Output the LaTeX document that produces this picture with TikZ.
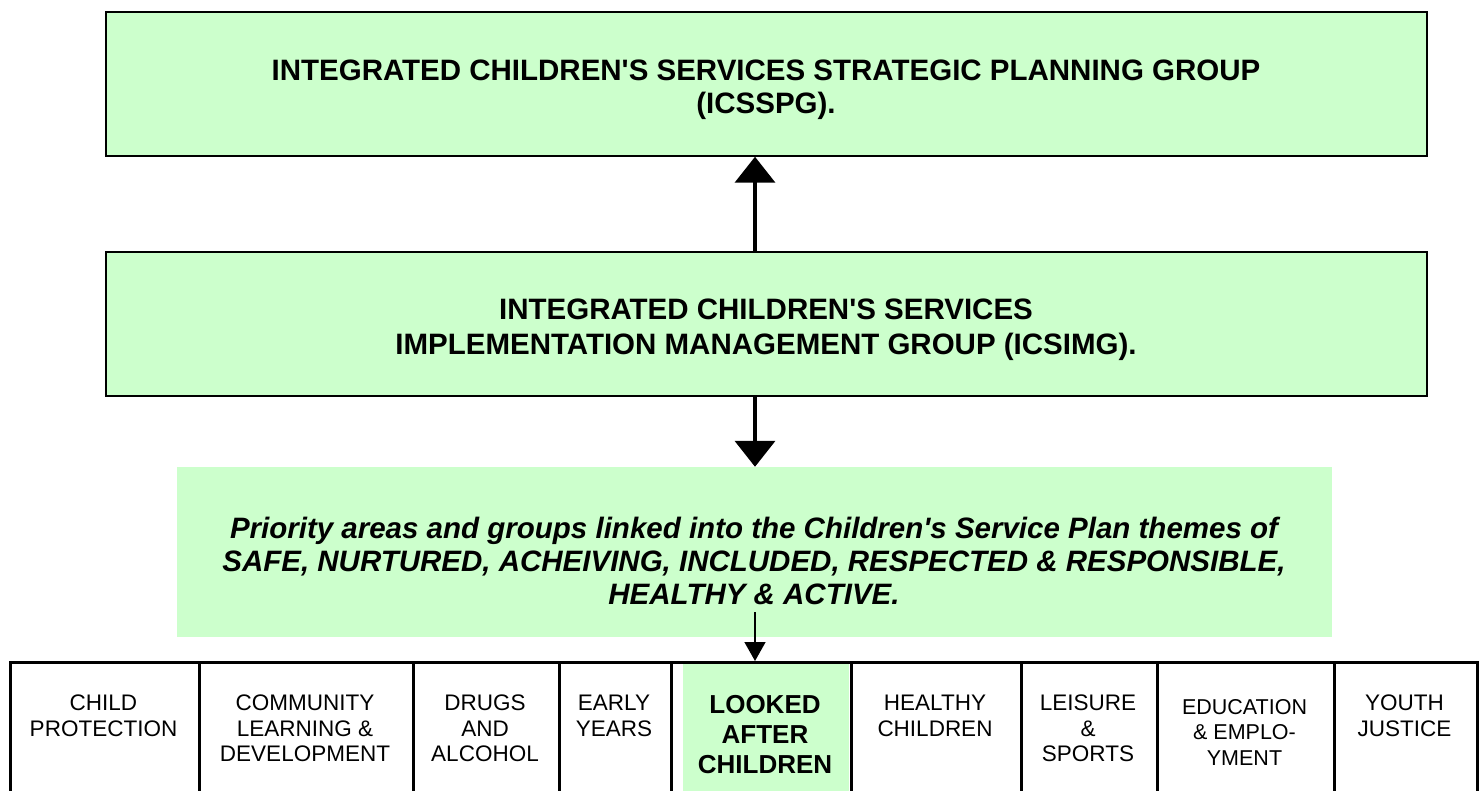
\documentclass[tikz,border=0pt]{standalone}
\usepackage{fontspec}
\setmainfont{Liberation Sans}
\usetikzlibrary{arrows.meta}
\definecolor{lightgreen}{HTML}{CCFFCC}
\begin{document}
\begin{tikzpicture}[x=1pt,y=-1pt,
  box/.style={draw=black, line width=1.5pt, fill=lightgreen, rectangle, inner sep=0, minimum width=1321pt, minimum height=144pt},
  plainbox/.style={fill=lightgreen, draw=none, rectangle, inner sep=0},
  boxtext/.style={inner sep=0, align=center, font=\fontsize{29.5}{33}\selectfont\bfseries},
  cell/.style={draw=black, line width=3pt, rectangle, inner sep=0, anchor=north west, minimum height=200pt},
  celltext/.style={inner sep=0, anchor=north, align=center, font=\fontsize{22.5}{25.5}\selectfont},
  bigarrow/.style={line width=4pt, -{Triangle[width=40pt,length=26pt]}},
  smallarrow/.style={line width=1.5pt, -{Triangle[width=21pt,length=19pt]}}
]
\useasboundingbox (0,0) rectangle (1480,791);

% top boxes
\node[box] (b1) at (766.5,84) {};
\node[boxtext] (t1) at (766,90) {INTEGRATED CHILDREN\textquotesingle S SERVICES STRATEGIC PLANNING GROUP\\(ICSSPG).};
\node[box] (b2) at (766.5,324) {};
\node[boxtext, font=\fontsize{29.5}{35}\selectfont\bfseries] (t2) at (766,330) {INTEGRATED CHILDREN\textquotesingle S SERVICES\\IMPLEMENTATION MANAGEMENT GROUP (ICSIMG).};
\node[plainbox, minimum width=1155pt, minimum height=170pt] (b3) at (754.5,552) {};
\node[boxtext, font=\fontsize{29.5}{33}\selectfont\bfseries\itshape] (t3) at (754,561) {Priority areas and groups linked into the Children\textquotesingle s Service Plan themes of\\SAFE, NURTURED, ACHEIVING, INCLUDED, RESPECTED \& RESPONSIBLE,\\HEALTHY \& ACTIVE.};

% table
\node[plainbox, anchor=north west, minimum width=166pt, minimum height=200pt] (lacfill) at (683,661) {};
\node[cell, minimum width=189pt] (c1) at (9,661) {};
\node[cell, minimum width=214pt] (c2) at (198,661) {};
\node[cell, minimum width=146pt] (c3) at (412,661) {};
\node[cell, minimum width=112pt] (c4) at (558,661) {};
\node[cell, minimum width=180pt] (c5) at (670,661) {};
\node[cell, minimum width=170pt] (c6) at (850,661) {};
\node[cell, minimum width=136pt] (c7) at (1020,661) {};
\node[cell, minimum width=177pt] (c8) at (1156,661) {};
\node[cell, minimum width=143pt] (c9) at (1333,661) {};

\node[celltext] (x1) at (103.5,695) {CHILD\\PROTECTION};
\node[celltext] (x2) at (305,695) {COMMUNITY\\LEARNING \&\\DEVELOPMENT};
\node[celltext] (x3) at (485,695) {DRUGS\\AND\\ALCOHOL};
\node[celltext] (x4) at (614,695) {EARLY\\YEARS};
\node[celltext, font=\fontsize{26}{30}\selectfont\bfseries] (x5) at (765,695) {LOOKED\\AFTER\\CHILDREN};
\node[celltext] (x6) at (935,695) {HEALTHY\\CHILDREN};
\node[celltext] (x7) at (1088,695) {LEISURE\\\&\\SPORTS};
\node[celltext, font=\fontsize{21.5}{25.5}\selectfont] (x8) at (1244.5,699) {EDUCATION\\\& EMPLO-\\YMENT};
\node[celltext] (x9) at (1404.5,695) {YOUTH\\JUSTICE};

% connectors
\coordinate (ax) at (755,0);
\coordinate (s3) at (755,612);
\draw[bigarrow] (b2.north -| ax) -- (b1.south -| ax);
\draw[bigarrow] (b2.south -| ax) -- (b3.north -| ax);
\draw[smallarrow] (s3) -- (c5.north -| s3);
\end{tikzpicture}
\end{document}
